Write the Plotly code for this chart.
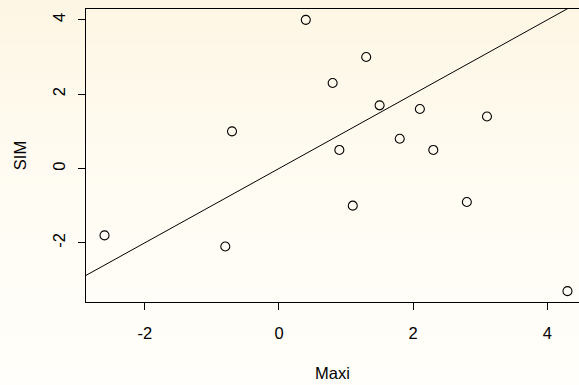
import plotly.graph_objects as go
import numpy as np

# ---- data ----
maxi = [-2.6, -0.8, -0.7, 0.4, 0.8, 0.9, 1.1, 1.3, 1.5, 1.8, 2.1, 2.3, 2.8, 3.1, 4.3]
sim = [-1.8, -2.1, 1.0, 4.0, 2.3, 0.5, -1.0, 3.0, 1.7, 0.8, 1.6, 0.5, -0.9, 1.4, -3.3]
ref_slope = 1.0
ref_intercept = 0.0
x_tick_vals = [-2, 0, 2, 4]
x_tick_text = ["-2", "0", "2", "4"]
y_tick_vals = [-2, 0, 2, 4]
y_tick_text = ["-2", "0", "2", "4"]
x_title = "Maxi"
y_title = "SIM"

# ---- layout geometry ----
W, H = 579, 385
L, R, T, B = 86, 0, 9, 83
FONT = "Liberation Sans, Arial, Helvetica, sans-serif"
FS = 16.5


def r_lim(v):
    lo, hi = min(v), max(v)
    d = hi - lo
    return lo - 0.04 * d, hi + 0.04 * d


xlo, xhi = r_lim(maxi)
ylo, yhi = r_lim(sim)
# the original plot region runs past the right edge of the window; crop it
full_px = 586 - L
vis_px = W - L - R
xhi_vis = xlo + (xhi - xlo) * vis_px / full_px

fig = go.Figure()

# reference line (abline)
lx = np.array([xlo, xhi])
fig.add_trace(go.Scatter(x=lx, y=ref_slope * lx + ref_intercept, mode="lines",
                         line=dict(color="black", width=1), hoverinfo="skip",
                         showlegend=False))
fig.add_trace(go.Scatter(x=maxi, y=sim, mode="markers",
                         marker=dict(symbol="circle-open", size=9,
                                     color="black", line=dict(width=1.1, color="black")),
                         showlegend=False))

# background vertical gradient
stops = [(0, (254, 246, 228)), (190, (255, 252, 243)), (385, (255, 254, 250))]
shapes = []
step = 5
plot_h = H - T - B
for y0 in range(0, H, step):
    yc = y0 + step / 2
    for (a, ca), (b, cb) in zip(stops[:-1], stops[1:]):
        if a <= yc <= b:
            t = (yc - a) / (b - a)
            c = tuple(int(round(ca[i] + (cb[i] - ca[i]) * t)) for i in range(3))
            break
    shapes.append(dict(type="rect", xref="paper", yref="paper", layer="below",
                       x0=-0.3, x1=1.1,
                       y0=(H - B - y0) / plot_h, y1=(H - B - (y0 + step + 1)) / plot_h,
                       fillcolor="rgb(%d,%d,%d)" % c, line=dict(width=0)))

fig.update_layout(
    width=W, height=H,
    margin=dict(l=L, r=R, t=T, b=B, pad=0, autoexpand=False),
    paper_bgcolor="rgb(255,252,243)",
    plot_bgcolor="rgba(0,0,0,0)",
    shapes=shapes,
    font=dict(family=FONT, size=FS, color="black"),
    showlegend=False,
    xaxis=dict(range=[xlo, xhi_vis], showgrid=False, zeroline=False, automargin=False,
               showline=True, linecolor="black", linewidth=1, mirror=True,
               ticks="outside", ticklen=7, tickwidth=1, tickcolor="black",
               ticklabelstandoff=9,
               tickvals=x_tick_vals, ticktext=x_tick_text,
               title=dict(text=x_title, standoff=26, font=dict(size=FS))),
    yaxis=dict(range=[ylo, yhi], showgrid=False, zeroline=False, automargin=False,
               showline=True, linecolor="black", linewidth=1, mirror=False,
               ticks="outside", ticklen=7, tickwidth=1, tickcolor="black",
               ticklabelstandoff=6,
               tickvals=y_tick_vals, ticktext=y_tick_text, tickangle=-90,
               title=dict(text=y_title, standoff=19, font=dict(size=FS))),
)

fig.write_html("out.html",
               config={"displayModeBar": False},
               post_script="document.body.style.margin='0';"
                           "document.body.style.background='rgb(255,252,243)';")
